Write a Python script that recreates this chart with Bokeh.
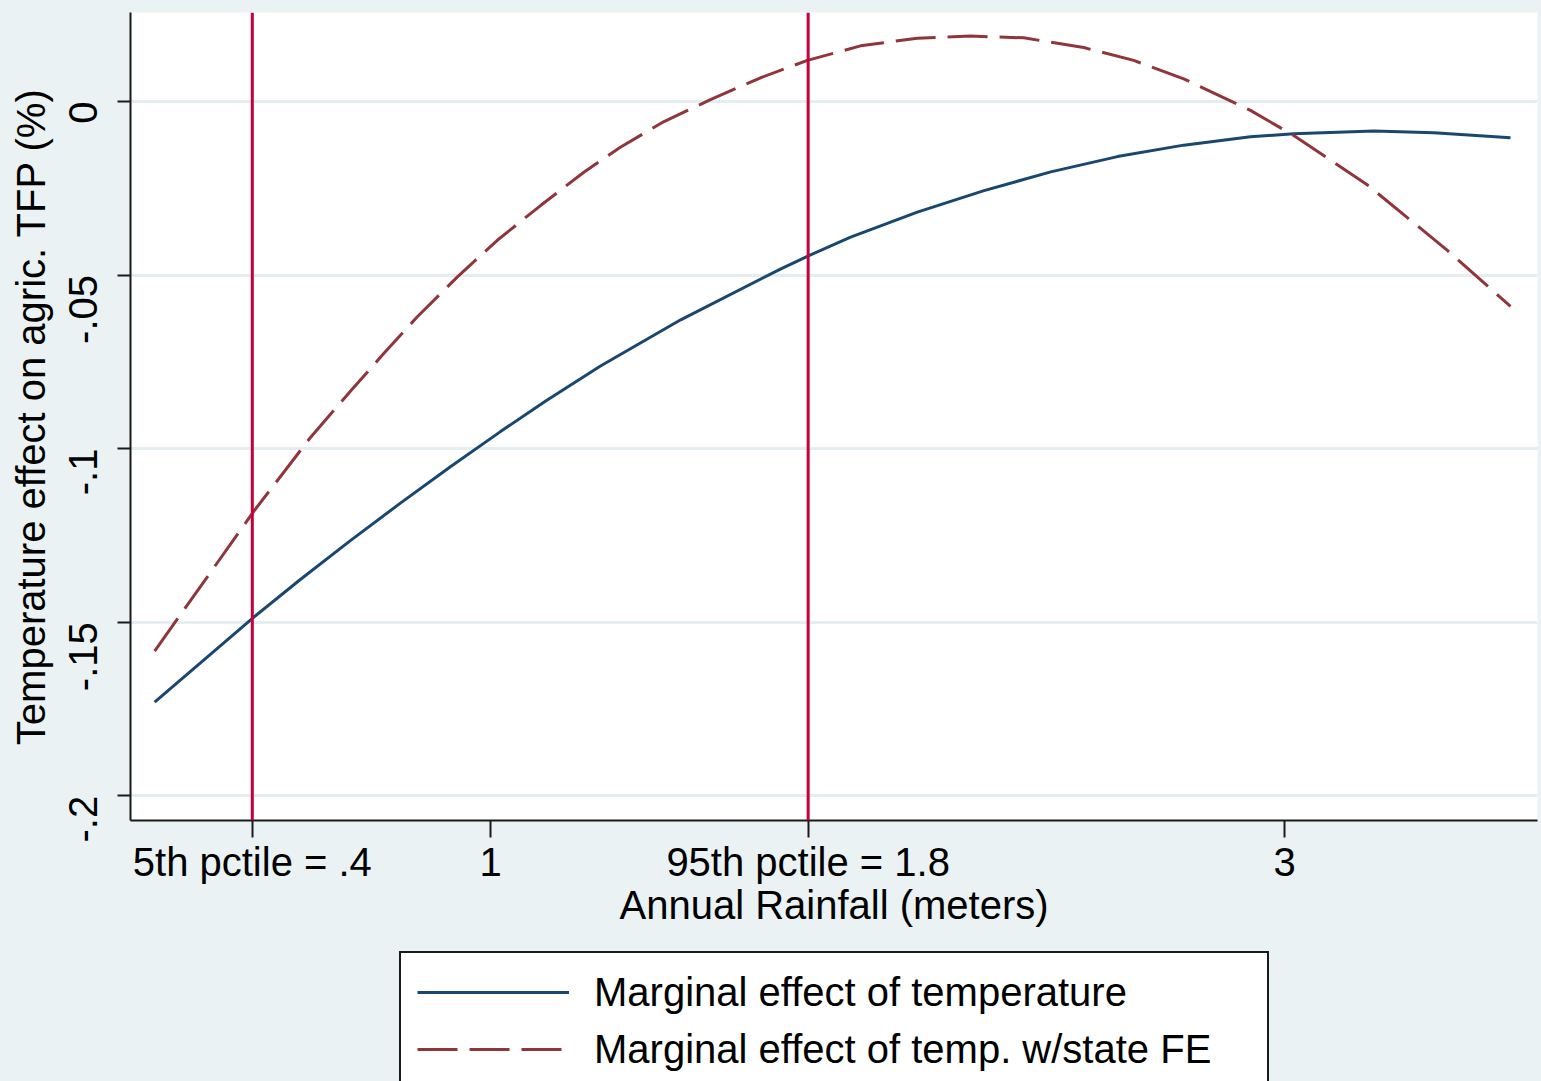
import math
from bokeh.plotting import figure
from bokeh.layouts import column
from bokeh.models import FixedTicker, Span, Legend, LegendItem, Range1d
from bokeh.embed import file_html
from bokeh.resources import INLINE

# ---- data ----
rain_temp = [0.154, 0.404, 0.521, 0.647, 0.773, 0.899, 1.025, 1.139, 1.277, 1.479,
             1.730, 1.802, 1.907, 2.075, 2.243, 2.411, 2.579, 2.746, 2.914, 3.023,
             3.225, 3.376, 3.569]
me_temp = [-0.1730, -0.1485, -0.1377, -0.1265, -0.1157, -0.1052, -0.0951, -0.0863, -0.0762, -0.0629,
           -0.0483, -0.0444, -0.0391, -0.0319, -0.0257, -0.0203, -0.0159, -0.0126, -0.0102, -0.0093,
           -0.0085, -0.0090, -0.0105]

rain_fe = [0.154, 0.295, 0.404, 0.547, 0.647, 0.731, 0.815, 0.916, 1.017, 1.126,
           1.235, 1.327, 1.437, 1.554, 1.680, 1.798, 1.932, 2.075, 2.209, 2.343,
           2.494, 2.620, 2.746, 2.914, 3.023, 3.208, 3.410, 3.569]
me_fe = [-0.1583, -0.1356, -0.1180, -0.0967, -0.0835, -0.0726, -0.0621, -0.0506, -0.0400, -0.0300,
         -0.0204, -0.0132, -0.0058, 0.0005, 0.0068, 0.0118, 0.0160, 0.0182, 0.0188, 0.0183,
         0.0155, 0.0118, 0.0065, -0.0026, -0.0098, -0.0240, -0.0429, -0.0590]

pctile_values = [0.4, 1.8]
x_ticks = [0.4, 1.0, 1.8, 3.0]
x_tick_labels = ["5th pctile = .4", "1", "95th pctile = 1.8", "3"]
y_ticks = [0.0, -0.05, -0.1, -0.15, -0.2]
y_tick_labels = ["0", "-.05", "-.1", "-.15", "-.2"]
series_labels = ["Marginal effect of temperature", "Marginal effect of temp. w/state FE"]

FONT = "Liberation Sans"
BG = "#EAF2F3"
NAVY = "#1A476F"
MAROON = "#90353B"
VLINE = "#C8003A"
DASH = "40 12"

# ---------------- main plot ----------------
p = figure(width=1541, height=940, output_backend="svg", toolbar_location=None,
           x_range=Range1d(0.0932, 3.637), y_range=Range1d(-0.2071, 0.0256),
           min_border_left=130, min_border_right=4, min_border_top=12, min_border_bottom=120)

p.background_fill_color = "white"
p.border_fill_color = BG
p.outline_line_color = None

p.xaxis.ticker = FixedTicker(ticks=x_ticks)
p.xaxis.major_label_overrides = dict(zip(x_ticks, x_tick_labels))
p.yaxis.ticker = FixedTicker(ticks=y_ticks)
p.yaxis.major_label_overrides = dict(zip(y_ticks, y_tick_labels))

for ax in (p.xaxis[0], p.yaxis[0]):
    ax.axis_line_color = "#1a1a1a"
    ax.axis_line_width = 2
    ax.major_tick_line_color = "#1a1a1a"
    ax.major_tick_line_width = 2
    ax.major_tick_in = 0
    ax.minor_tick_line_color = None
    ax.major_label_text_font = FONT
    ax.major_label_text_font_size = "40px"
    ax.major_label_text_color = "black"
    ax.axis_label_text_font = FONT
    ax.axis_label_text_font_size = "40px"
    ax.axis_label_text_font_style = "normal"
    ax.axis_label_text_color = "black"

p.xaxis.major_tick_out = 17
p.xaxis.major_label_standoff = 2
p.xaxis.axis_label = "Annual Rainfall (meters)"
p.xaxis.axis_label_standoff = -4

p.yaxis.major_tick_out = 13
p.yaxis.major_label_orientation = math.pi / 2
p.yaxis.major_label_standoff = 34
p.yaxis.axis_label = "Temperature effect on agric. TFP (%)"
p.yaxis.axis_label_standoff = 0

p.xgrid.grid_line_color = None
p.ygrid.ticker = FixedTicker(ticks=y_ticks)
p.ygrid.grid_line_color = "#E4EEF0"
p.ygrid.grid_line_width = 3

p.line(rain_temp, me_temp, line_color=NAVY, line_width=3)
p.line(rain_fe, me_fe, line_color=MAROON, line_width=3, line_dash=DASH)

for v in pctile_values:
    p.add_layout(Span(location=v, dimension="height", line_color=VLINE, line_width=3))

# ---------------- legend strip ----------------
q = figure(width=1541, height=141, output_backend="svg", toolbar_location=None,
           x_range=Range1d(0, 1), y_range=Range1d(10, 11),
           min_border_left=0, min_border_right=0, min_border_top=0, min_border_bottom=0)
q.axis.visible = False
q.grid.visible = False
q.outline_line_color = None
q.background_fill_alpha = 0
q.border_fill_color = BG

# legend proxies (same series, outside this strip's visible range)
k1 = q.line(rain_temp, me_temp, line_color=NAVY, line_width=3)
k2 = q.line(rain_fe, me_fe, line_color=MAROON, line_width=3, line_dash=DASH)

legend = Legend(items=[LegendItem(label=series_labels[0], renderers=[k1]),
                       LegendItem(label=series_labels[1], renderers=[k2])],
                location=(269, -9), orientation="vertical",
                label_text_font=FONT, label_text_font_size="40px", label_text_color="black",
                glyph_width=152, glyph_height=46, label_height=46, label_width=657,
                label_standoff=25, padding=16, spacing=11, margin=0,
                border_line_color="#1a1a1a", border_line_width=2, border_line_alpha=1.0,
                background_fill_color="white", background_fill_alpha=1.0)
q.add_layout(legend, "center")

layout = column(p, q, spacing=0, styles={"background-color": BG})
open("out.html", "w").write(file_html(layout, INLINE))
